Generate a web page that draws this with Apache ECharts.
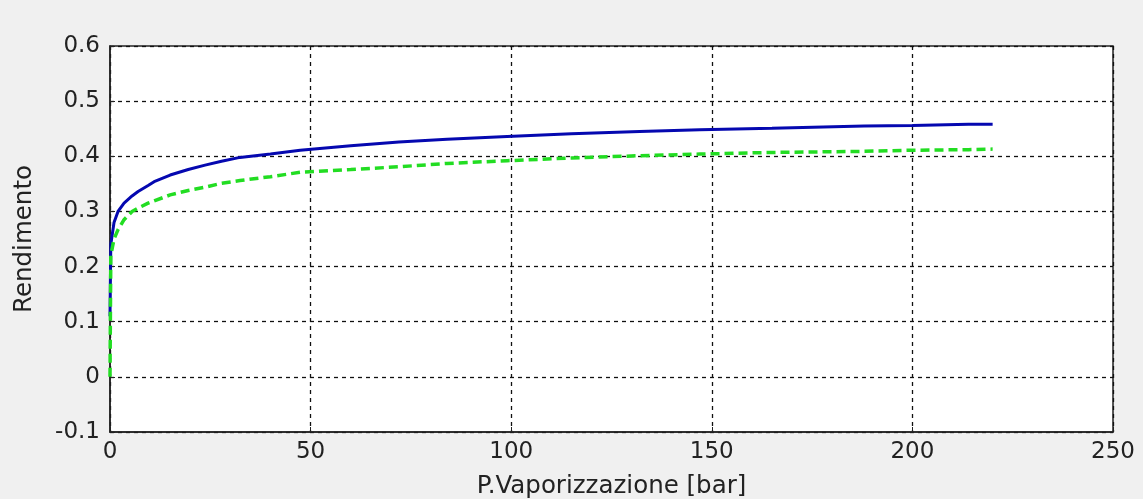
<!DOCTYPE html>
<html>
<head>
<meta charset="utf-8">
<script src="https://cdn.jsdelivr.net/npm/echarts@6/dist/echarts.min.js"></script>
<style>
  html, body { margin: 0; padding: 0; background: #f0f0f0; }
  #chart { width: 1143px; height: 499px; }
</style>
</head>
<body>
<div id="chart"></div>
<script>
// Vaporisation pressure [bar]
const pressure = [0, 0.2, 1, 2, 3.5, 5.5, 7, 9.5, 11, 15, 19.5, 23.7, 27.8, 32.4, 40, 47.4,
  60, 72, 84, 99, 115, 132, 147, 165, 188, 200, 214, 220];
// Cycle efficiency, solid blue curve
const rendimentoA = [0.11, 0.24, 0.28, 0.30, 0.315, 0.328, 0.336, 0.347, 0.354, 0.366, 0.376, 0.384,
  0.391, 0.398, 0.404, 0.411, 0.419, 0.426, 0.431, 0.436, 0.441, 0.445, 0.448, 0.451, 0.455, 0.456, 0.458, 0.458];
// Cycle efficiency, dashed green curve
const rendimentoB = [0.0, 0.22, 0.25, 0.267, 0.285, 0.300, 0.306, 0.315, 0.319, 0.330, 0.338, 0.344,
  0.351, 0.356, 0.363, 0.371, 0.376, 0.381, 0.387, 0.392, 0.397, 0.401, 0.404, 0.407, 0.409, 0.411, 0.412, 0.413];

const xTitle = 'P.Vaporizzazione [bar]';
const yTitle = 'Rendimento';

const font = 'DejaVu Sans, Verdana, sans-serif';
const pairs = (ys) => pressure.map((p, i) => [p, ys[i]]);

const chart = echarts.init(document.getElementById('chart'), null, { renderer: 'canvas' });
chart.setOption({
  backgroundColor: '#f0f0f0',
  animation: false,
  grid: {
    left: 110, right: 30, top: 46, bottom: 67,
    outerBoundsMode: 'none', containLabel: false,
    show: true, backgroundColor: '#ffffff', borderColor: '#222', borderWidth: 1.5
  },
  xAxis: {
    type: 'value', min: 0, max: 250, interval: 50,
    name: xTitle, nameLocation: 'middle', nameGap: 42,
    nameTextStyle: { fontFamily: font, fontSize: 24.5, color: '#222' },
    axisLine: { show: true, onZero: false, lineStyle: { color: '#222', width: 1.5 } },
    axisTick: { show: true, inside: true, length: 5, lineStyle: { color: '#222' } },
    axisLabel: { fontFamily: font, fontSize: 23, color: '#222', margin: 9 },
    splitLine: { show: true, lineStyle: { color: '#111', width: 1.3, type: [4, 4] } }
  },
  yAxis: {
    type: 'value', min: -0.1, max: 0.6, interval: 0.1,
    name: yTitle, nameLocation: 'middle', nameGap: 73, nameRotate: 90,
    nameTextStyle: { fontFamily: font, fontSize: 24.5, color: '#222' },
    axisLine: { show: true, onZero: false, lineStyle: { color: '#222', width: 1.5 } },
    axisTick: { show: true, inside: true, length: 5, lineStyle: { color: '#222' } },
    axisLabel: {
      fontFamily: font, fontSize: 23, color: '#222', margin: 10,
      formatter: (v) => String(+v.toFixed(1))
    },
    splitLine: { show: true, lineStyle: { color: '#111', width: 1.3, type: [4, 4] } }
  },
  series: [
    {
      type: 'line', data: pairs(rendimentoA), showSymbol: false, smooth: false,
      lineStyle: { color: '#0508b0', width: 3 }
    },
    {
      type: 'line', data: pairs(rendimentoB), showSymbol: false, smooth: false,
      lineStyle: { color: '#22dd22', width: 3.5, type: [9, 5] }
    }
  ]
});
</script>
</body>
</html>
